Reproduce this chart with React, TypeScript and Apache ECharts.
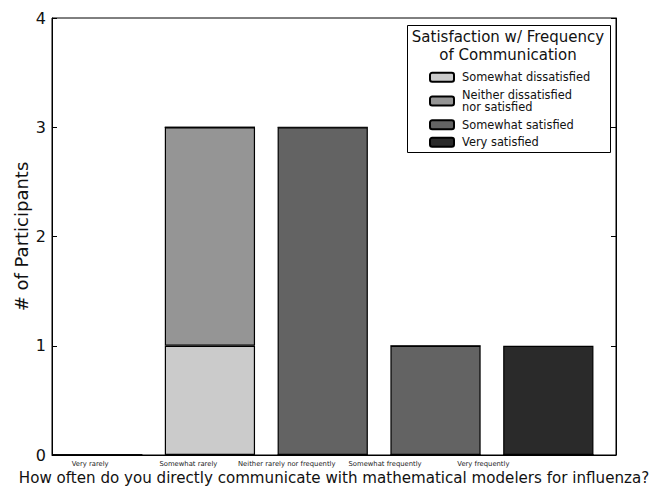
import React, { useEffect, useRef } from "react";
import * as echarts from "echarts";

const categories = [
  "Very rarely",
  "Somewhat rarely",
  "Neither rarely nor frequently",
  "Somewhat frequently",
  "Very frequently",
];
const seriesNames = [
  "Somewhat dissatisfied",
  "Neither dissatisfied nor satisfied",
  "Somewhat satisfied",
  "Very satisfied",
];
const somewhatDissatisfied = [0, 1, 0, 0, 0];
const neitherDissatisfied = [0, 2, 0, 0, 0];
const somewhatSatisfied = [0, 0, 3, 1, 0];
const verySatisfied = [0, 0, 0, 0, 1];
const padding = [0, 0, 0, 0, 0];
const colors = ["#cbcbcb", "#959595", "#636363", "#2a2a2a"];

const FONT = "DejaVu Sans";

export default function App() {
  const ref = useRef<HTMLDivElement>(null);
  useEffect(() => {
    const chart = echarts.init(ref.current!, null, { renderer: "svg" });
    const values = [somewhatDissatisfied, neitherDissatisfied, somewhatSatisfied, verySatisfied];
    const barSeries: any[] = seriesNames.map((name, i) => ({
      name,
      type: "bar",
      stack: "total",
      xAxisIndex: 0,
      yAxisIndex: 0,
      barWidth: "80%",
      barGap: 0,
      data: values[i],
      itemStyle: { color: colors[i], borderColor: "#000", borderWidth: 1.2 },
    }));
    barSeries.push({
      name: "pad",
      type: "bar",
      stack: "pad",
      xAxisIndex: 0,
      yAxisIndex: 0,
      barWidth: "20%",
      barGap: 0,
      data: padding,
      itemStyle: { color: "transparent", borderWidth: 0 },
      silent: true,
    });
    chart.setOption({
      animation: false,
      textStyle: { fontFamily: FONT },
      grid: [
        {
          left: 52, right: 34, top: 18, bottom: 36, show: true,
          borderColor: "#000", borderWidth: 1, backgroundColor: "#fff",
          containLabel: false, outerBoundsMode: "none",
        },
        {
          left: 41, right: 117.5, top: 18, bottom: 36, show: false,
          containLabel: false, outerBoundsMode: "none",
        },
      ],
      xAxis: [
        {
          type: "category",
          gridIndex: 0,
          data: categories,
          axisLine: { lineStyle: { color: "#000", width: 1 } },
          axisTick: { show: false },
          axisLabel: { show: false },
          name: "How often do you directly communicate with mathematical modelers for influenza?",
          nameLocation: "middle",
          nameGap: 15,
          nameMoveOverlap: false,
          nameTextStyle: { fontSize: 15.1, color: "#111", fontFamily: FONT },
        },
        {
          type: "category",
          gridIndex: 1,
          data: categories,
          axisLine: { show: false },
          axisTick: { show: false },
          axisLabel: { fontSize: 6.8, color: "#222", margin: 5, fontFamily: FONT, interval: 0 },
        },
      ],
      yAxis: [
        {
          type: "value",
          gridIndex: 0,
          min: 0,
          max: 4,
          interval: 1,
          axisLine: { show: true, lineStyle: { color: "#000", width: 1 } },
          axisTick: { show: true, inside: true, length: 5, lineStyle: { color: "#000" } },
          axisLabel: { fontSize: 16, color: "#111", margin: 6, fontFamily: FONT },
          splitLine: { show: false },
          name: "# of Participants",
          nameLocation: "middle",
          nameGap: 22,
          nameMoveOverlap: false,
          nameTextStyle: { fontSize: 18, color: "#111", fontFamily: FONT },
        },
        {
          type: "value",
          gridIndex: 0,
          position: "right",
          min: 0,
          max: 4,
          interval: 1,
          axisLine: { show: true, lineStyle: { color: "#000", width: 1 } },
          axisTick: { show: true, inside: true, length: 5, lineStyle: { color: "#000" } },
          axisLabel: { show: false },
          splitLine: { show: false },
        },
        { type: "value", gridIndex: 1, show: false },
      ],
      legend: {
        data: seriesNames,
        orient: "vertical",
        left: 424,
        top: 66,
        itemWidth: 24,
        itemHeight: 9,
        itemGap: 5,
        selectedMode: false,
        z: 10,
        textStyle: { fontSize: 11.4, color: "#111", lineHeight: 12.5, fontFamily: FONT, padding: [0, 0, 0, 3] },
        formatter: (name: string) =>
          name === "Neither dissatisfied nor satisfied" ? "Neither dissatisfied\nnor satisfied" : name,
      },
      graphic: [
        {
          type: "rect",
          left: 407,
          top: 25,
          z: 5,
          shape: { width: 203, height: 127 },
          style: { fill: "#fff", stroke: "#000", lineWidth: 1 },
        },
        {
          type: "text",
          x: 508,
          y: 28,
          z: 6,
          style: {
            text: "Satisfaction w/ Frequency\nof Communication",
            fontSize: 15,
            lineHeight: 18,
            fontFamily: FONT,
            fill: "#111",
            align: "center",
            verticalAlign: "top",
          },
        },
      ],
      series: barSeries,
    });
    return () => chart.dispose();
  }, []);
  return (
    <div
      ref={ref}
      style={{ position: "absolute", left: 0, top: 0, width: 650, height: 491 }}
    />
  );
}
